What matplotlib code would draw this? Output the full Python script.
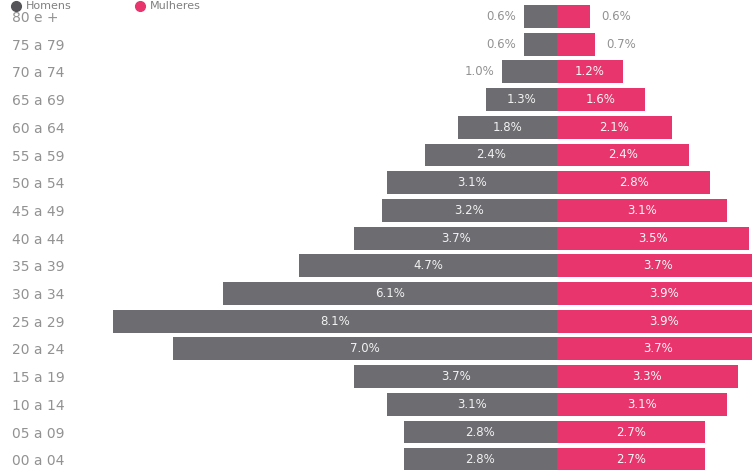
import matplotlib
matplotlib.use("Agg")
import matplotlib.pyplot as plt
from matplotlib.lines import Line2D

# Data (top to bottom in the chart)
age_groups = ["80 e +", "75 a 79", "70 a 74", "65 a 69", "60 a 64", "55 a 59",
              "50 a 54", "45 a 49", "40 a 44", "35 a 39", "30 a 34", "25 a 29",
              "20 a 24", "15 a 19", "10 a 14", "05 a 09", "00 a 04"]
homens = [0.6, 0.6, 1.0, 1.3, 1.8, 2.4, 3.1, 3.2, 3.7, 4.7, 6.1, 8.1, 7.0, 3.7, 3.1, 2.8, 2.8]
mulheres = [0.6, 0.7, 1.2, 1.6, 2.1, 2.4, 2.8, 3.1, 3.5, 3.7, 3.9, 3.9, 3.7, 3.3, 3.1, 2.7, 2.7]
legend_labels = ["Homens", "Mulheres"]

GRAY = "#6c6c71"
PINK = "#e8356d"
TXT = "#929292"

W, H = 752, 470
fig = plt.figure(figsize=(W / 100, H / 100), dpi=100)
fig.patch.set_facecolor("white")

# axes geometry in pixels
center_px = 557
px_per_pct = 54.8
ax_left_px = 110
row_top = 16.5
row_step = 27.7
n = len(age_groups)
ax_top_px = row_top - row_step / 2
ax_h_px = row_step * n
x_min = -(center_px - ax_left_px) / px_per_pct
x_max = (W - center_px) / px_per_pct

ax = fig.add_axes([ax_left_px / W, 1 - (ax_top_px + ax_h_px) / H,
                   (W - ax_left_px) / W, ax_h_px / H])
ax.set_xlim(x_min, x_max)
ax.set_ylim(n - 0.5, -0.5)
ax.axis("off")

ys = list(range(n))
bh = 0.83
ax.barh(ys, [-v for v in homens], height=bh, color=GRAY, linewidth=0)
ax.barh(ys, mulheres, height=bh, color=PINK, linewidth=0)

for y, v in zip(ys, homens):
    s = f"{v:.1f}%"
    if v > 1.05:
        ax.text(-v / 2, y, s, ha="center", va="center", color="#f2f2f2", fontsize=8.5)
    else:
        ax.text(-v - 0.15, y, s, ha="right", va="center", color=TXT, fontsize=8.5)
for y, v in zip(ys, mulheres):
    s = f"{v:.1f}%"
    if v > 1.05:
        ax.text(v / 2, y, s, ha="center", va="center", color="#f7f7f7", fontsize=8.5)
    else:
        ax.text(v + 0.2, y, s, ha="left", va="center", color=TXT, fontsize=8.5)

# age labels at left
for y, lab in zip(ys, age_groups):
    ypx = row_top + y * row_step + 1.5
    fig.text(12 / W, 1 - ypx / H, lab, ha="left", va="center", color=TXT, fontsize=10)

# legend at the top
ty = 1 - 1 / H
my = 1 - 5.5 / H
fig.add_artist(Line2D([16 / W], [my], marker="o", markersize=7, color="#555559",
                      transform=fig.transFigure, linestyle="none"))
fig.text(26 / W, ty, legend_labels[0], ha="left", va="top", color="#808080", fontsize=8)
fig.add_artist(Line2D([140 / W], [my], marker="o", markersize=7, color=PINK,
                      transform=fig.transFigure, linestyle="none"))
fig.text(150 / W, ty, legend_labels[1], ha="left", va="top", color="#808080", fontsize=8)

fig.savefig("out.png", dpi=100)
